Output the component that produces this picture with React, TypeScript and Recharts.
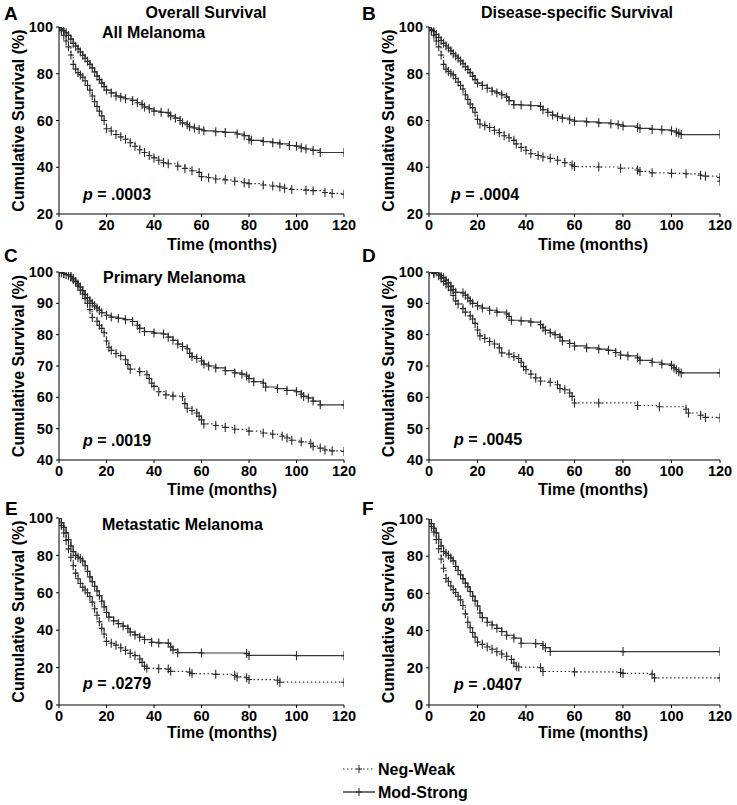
import React from 'react';
import { LineChart, Line, XAxis, YAxis } from 'recharts';

// Kaplan-Meier estimates: [month, survival %]
const overallStrong: [number, number][] = [
  [0, 100], [1, 99.2], [2, 98.3], [3, 97.5], [4, 96.4], [5, 94.8], [6, 93], [7, 91.8], [8, 90.6], [9, 89.3],
  [10, 87.9], [11, 86.6], [12, 85.3], [13, 84], [14, 82.5], [15, 80.8], [16, 79], [17, 77.5], [18, 76], [19, 74.5],
  [20, 73], [22, 71.8], [24, 70.5], [26, 70], [28, 69.3], [31, 68.6], [33, 67.6], [35, 66.8], [36, 65.8], [38, 65],
  [40, 64], [43, 63.5], [46, 63.2], [47, 62], [49, 61], [51, 60], [52, 59], [54, 58.2], [55, 57.3], [57, 56.8],
  [59, 56.2], [61, 55.6], [66, 55.2], [70, 54.9], [75, 54.2], [78, 53.5], [80, 52], [81, 51.5], [86, 51], [90, 50.5],
  [93, 50], [97, 49.3], [100, 49], [102, 48.3], [104, 47.8], [107, 47.2], [110, 46.3], [120, 46.3],
];
const overallWeak: [number, number][] = [
  [0, 100], [1, 98.5], [2, 96.5], [3, 94], [4, 91.5], [5, 88], [6, 84], [7, 82], [8, 80.5], [9, 79.5],
  [10, 78.5], [11, 77], [12, 75], [13, 73], [14, 70.5], [15, 68], [16, 66], [17, 64], [18, 62], [19, 60],
  [20, 56.5], [22, 55.5], [24, 54], [26, 53], [28, 52], [30, 50.5], [32, 49], [34, 47.5], [36, 46.3], [38, 45],
  [40, 44], [42, 43], [44, 42], [46, 41.5], [50, 40.5], [53, 39.5], [56, 38.5], [59, 37.8], [60, 36], [63, 35.5],
  [66, 35], [70, 34.6], [74, 34], [78, 33.4], [80, 33], [86, 32.4], [90, 32], [93, 31.6], [95, 31], [98, 30.5],
  [104, 30.2], [107, 30], [112, 29.2], [115, 28.8], [120, 28.5],
];
const diseaseStrong: [number, number][] = [
  [0, 100], [1, 99], [2, 98], [3, 96.8], [4, 95.5], [5, 94.2], [6, 93], [7, 92], [8, 91], [9, 89.8],
  [10, 88.6], [11, 87.6], [12, 86.6], [13, 85.5], [14, 84.3], [15, 83], [16, 81.8], [17, 80.5], [18, 79], [19, 77.5],
  [20, 76], [22, 75], [24, 73.8], [26, 72.6], [28, 71.8], [30, 71], [32, 70], [33, 68.5], [35, 66.8], [38, 66.6],
  [42, 66.4], [46, 66], [47, 64.6], [49, 63.5], [51, 62.3], [53, 61.6], [55, 61], [58, 60.3], [60, 59.7], [65, 59.4],
  [70, 59], [75, 58.6], [78, 58.2], [80, 57.6], [86, 57], [87, 56.6], [92, 56.2], [96, 56], [100, 55.6], [102, 55],
  [103, 54.5], [104, 54], [120, 54],
];
const diseaseWeak: [number, number][] = [
  [0, 100], [1, 98.5], [2, 96.5], [3, 94], [4, 91.5], [5, 88], [6, 84], [7, 82], [8, 81], [9, 80.2],
  [10, 79.5], [11, 78], [12, 76.5], [13, 75], [14, 73.5], [15, 71], [16, 69], [17, 67], [18, 65.5], [19, 63.5],
  [20, 60.5], [21, 58.5], [23, 57.8], [25, 57], [27, 55.8], [29, 54.8], [31, 53.5], [33, 52.6], [35, 51.5], [36, 50],
  [38, 48.5], [40, 47.3], [42, 45.8], [45, 45], [47, 44.4], [50, 43.8], [53, 43], [56, 42], [59, 41], [60, 40.3],
  [70, 40.1], [79, 39.6], [86, 38.8], [87, 38.2], [92, 37.6], [100, 37.4], [106, 37.2], [112, 36.6], [114, 36.2],
  [120, 35.6], [120, 34],
];
const primaryStrong: [number, number][] = [
  [0, 100], [1, 99.8], [2, 99.5], [3, 99.2], [5, 98.5], [6, 98], [7, 97], [8, 96.2], [9, 95.2], [10, 94],
  [11, 92.8], [12, 91.8], [13, 90.8], [14, 90], [15, 89.2], [16, 88.5], [17, 87.8], [18, 87], [20, 86.2], [22, 85.6],
  [25, 85.2], [28, 84.8], [31, 84.2], [33, 83], [34, 82], [36, 81], [40, 80.5], [44, 80.2], [46, 79.2], [48, 78.2],
  [50, 77], [52, 76.2], [54, 75.5], [55, 74], [56, 73], [58, 72.4], [60, 71.6], [61, 70.6], [63, 70], [66, 69.4],
  [70, 68.5], [74, 67.8], [77, 67.4], [79, 66.8], [80, 66], [82, 65], [86, 64.5], [87, 63.3], [92, 62.8], [96, 62.2],
  [100, 61.8], [102, 61], [103, 60.3], [105, 59.8], [107, 58.8], [110, 57.6], [120, 57.6],
];
const primaryWeak: [number, number][] = [
  [0, 100], [2, 99.5], [4, 99], [5, 98.5], [6, 97.5], [7, 96.8], [8, 95.5], [9, 94.2], [10, 93], [11, 91.5],
  [12, 90], [13, 88], [14, 85.5], [16, 84.3], [17, 83], [18, 82], [19, 80.6], [20, 78], [21, 76], [22, 75],
  [24, 74], [26, 73.3], [28, 72], [29, 70.5], [30, 69], [34, 68.2], [37, 67.2], [38, 66], [39, 64.5], [40, 63.5],
  [42, 61.8], [45, 60.8], [48, 60.4], [52, 60.2], [53, 58], [54, 56.5], [56, 55.8], [58, 55], [59, 54], [60, 52.8],
  [61, 51.5], [66, 51], [70, 50.4], [74, 49.8], [80, 49.2], [86, 48.6], [90, 48.2], [94, 47.6], [96, 47], [98, 46.3],
  [102, 45.8], [106, 45.2], [107, 44.4], [110, 43.8], [112, 43.2], [115, 42.9], [120, 42.7],
];
const primaryDsStrong: [number, number][] = [
  [0, 100], [2, 99.8], [4, 99.3], [5, 98.8], [6, 98.2], [7, 97.4], [8, 96.5], [9, 95.5], [10, 94.4], [11, 93.5],
  [14, 93.3], [15, 92.6], [16, 91.7], [17, 90.8], [18, 90], [20, 89.2], [22, 88.5], [25, 87.8], [28, 87.2], [32, 86.6],
  [33, 85.8], [34, 84.6], [38, 84.4], [42, 84], [46, 83.2], [47, 82.2], [48, 81.4], [50, 80.6], [52, 80], [54, 79.2],
  [55, 78], [58, 77.2], [60, 76.4], [65, 75.8], [70, 75.4], [74, 75], [77, 74.3], [79, 73.5], [82, 73.2], [86, 72.6],
  [87, 71.8], [92, 71.2], [96, 70.6], [100, 70.2], [101, 69.4], [102, 68.8], [103, 68.2], [104, 67.8], [120, 67.8],
];
const primaryDsWeak: [number, number][] = [
  [0, 100], [2, 99.5], [4, 98.8], [5, 98], [6, 97], [7, 96.2], [8, 95.3], [9, 94.2], [10, 92.5], [11, 90.8],
  [12, 89.8], [14, 88.3], [15, 87.2], [17, 86], [18, 85], [19, 83.6], [20, 81.5], [21, 79.6], [23, 78.8], [25, 77.8],
  [27, 77], [29, 75.8], [30, 74.2], [33, 73.8], [35, 73], [37, 72.4], [38, 71.2], [39, 69.8], [40, 68.8], [42, 67.4],
  [44, 66.2], [46, 65.2], [50, 64.8], [53, 64], [54, 62.8], [56, 62.4], [58, 61.4], [59, 60.3], [60, 58.2], [70, 58.2],
  [86, 57.4], [95, 57], [106, 56.2], [107, 55], [112, 54.3], [114, 53.6], [120, 53.5],
];
const metaStrong: [number, number][] = [
  [0, 100], [1, 97.5], [2, 95], [3, 92], [4, 88.5], [5, 85], [6, 82], [7, 80], [8, 79], [9, 78.2],
  [10, 77], [11, 74.5], [12, 71.5], [13, 68.5], [14, 66], [15, 63.5], [16, 61], [17, 58.5], [18, 55.5], [19, 52.5],
  [20, 49.5], [21, 47], [23, 45], [25, 43.5], [27, 42.2], [29, 40.8], [30, 39], [32, 37.5], [34, 36.2], [36, 35],
  [39, 33.5], [42, 33.2], [46, 33], [47, 31], [48, 29.5], [50, 28], [60, 27.8], [79, 27.5], [80, 26.5], [100, 26.4],
  [120, 26.4],
];
const metaWeak: [number, number][] = [
  [0, 100], [1, 96], [2, 92], [3, 88], [4, 83.5], [5, 79], [6, 74.5], [7, 70.5], [8, 67.5], [9, 65],
  [10, 63], [11, 61.5], [12, 60], [13, 58], [14, 55], [15, 51.5], [16, 48], [17, 44.5], [18, 41], [19, 38],
  [20, 34], [22, 33], [24, 32], [26, 30.6], [28, 29.2], [30, 27.6], [32, 26.4], [34, 24.6], [35, 22.8], [36, 20.8],
  [37, 19.6], [42, 19.4], [46, 19.2], [47, 18], [55, 17.6], [56, 16.8], [66, 16.4], [74, 15.8], [75, 15], [79, 14.6],
  [80, 13.6], [92, 13.2], [93, 12.2], [120, 12.2],
];
const metaDsStrong: [number, number][] = [
  [0, 100], [1, 97.5], [2, 95], [3, 92.5], [4, 89], [5, 85.5], [6, 82.5], [7, 81.5], [8, 80.5], [9, 79],
  [10, 77.5], [11, 74.5], [12, 72.3], [13, 70], [14, 67.8], [15, 65.5], [16, 63.5], [17, 61], [18, 58.5], [19, 56],
  [20, 53.2], [21, 49.5], [22, 47], [24, 44.5], [26, 43], [28, 41.2], [30, 39.5], [32, 37.5], [35, 36], [38, 33.2],
  [44, 33], [47, 32], [48, 30.8], [50, 28.8], [80, 28.7], [120, 28.7],
];
const metaDsWeak: [number, number][] = [
  [0, 100], [1, 96], [2, 93], [3, 89], [4, 84], [5, 78.5], [6, 73.5], [7, 68], [8, 66.5], [9, 64],
  [10, 62], [11, 60.5], [12, 58.5], [13, 56.5], [14, 53.5], [15, 49], [16, 44.5], [17, 41.5], [18, 39], [19, 36.5],
  [20, 33.8], [22, 32.6], [24, 31.2], [26, 30], [28, 28.6], [30, 27.4], [32, 26.2], [34, 24.5], [35, 22.6], [36, 20.8],
  [37, 20.4], [46, 20], [47, 18], [60, 17.8], [79, 17.5], [80, 17], [92, 16.5], [93, 14.6], [120, 14.6],
];

const monthTicks = [0, 20, 40, 60, 80, 100, 120];
const ticks20 = [20, 40, 60, 80, 100];
const ticks40 = [40, 50, 60, 70, 80, 90, 100];
const ticks0 = [0, 20, 40, 60, 80, 100];

const FONT = '"Liberation Sans", Arial, Helvetica, sans-serif';
const INK = '#000';

const toRows = (pts: [number, number][]) => pts.map(([t, s]) => ({ t, s }));

const Cross = (props: any) => {
  const { cx, cy } = props;
  if (cx == null || cy == null) return null;
  return (
    <path
      d={`M${cx - 3},${cy}H${cx + 3}M${cx},${cy - 4.5}V${cy + 4.5}`}
      stroke="#2a2a2a"
      strokeWidth={1.1}
      fill="none"
    />
  );
};

const renderCross = (p: any) => <Cross key={`c-${p.index}`} {...p} />;

interface PanelProps {
  left: number;
  top: number;
  width: number;
  height: number;
  axisW: number;
  right: number;
  marginTop: number;
  axisH: number;
  yDomain: [number, number];
  yTicks: number[];
  strong: [number, number][];
  weak: [number, number][];
  letter: string;
  letterPos: [number, number];
  titles: { text: string; x: number; y: number; anchor: 'start' | 'middle' }[];
  pValue: string;
  pPos: [number, number];
  yLabelX: number;
  xLabel: [number, number];
}

const Panel: React.FC<PanelProps> = (p) => {
  const plotMid = p.marginTop + (p.height - p.marginTop - p.axisH) / 2;
  const textStyle = { fontFamily: FONT, fontWeight: 700, fill: INK } as const;
  return (
    <div style={{ position: 'absolute', left: p.left, top: p.top }}>
      <LineChart
        width={p.width}
        height={p.height}
        margin={{ top: p.marginTop, right: p.right, left: 0, bottom: 0 }}
      >
        <XAxis
          dataKey="t"
          type="number"
          domain={[0, 120]}
          ticks={monthTicks}
          allowDataOverflow
          height={p.axisH}
          tickSize={3}
          tickMargin={3}
          stroke={INK}
          tick={{ fill: INK, fontSize: 14.5, fontWeight: 700, fontFamily: FONT }}
        />
        <YAxis
          type="number"
          domain={p.yDomain}
          ticks={p.yTicks}
          allowDataOverflow
          width={p.axisW}
          tickSize={3}
          tickMargin={3}
          stroke={INK}
          tick={{ fill: INK, fontSize: 14.5, fontWeight: 700, fontFamily: FONT }}
        />
        <Line
          data={toRows(p.weak)}
          dataKey="s"
          type="stepAfter"
          stroke="#333"
          strokeWidth={1.2}
          strokeDasharray="1.5 2.5"
          dot={renderCross}
          activeDot={false}
          isAnimationActive={false}
        />
        <Line
          data={toRows(p.strong)}
          dataKey="s"
          type="stepAfter"
          stroke="#3a3a3a"
          strokeWidth={1.2}
          dot={renderCross}
          activeDot={false}
          isAnimationActive={false}
        />
        <text x={p.letterPos[0]} y={p.letterPos[1]} fontSize={19} {...textStyle}>
          {p.letter}
        </text>
        {p.titles.map((t) => (
          <text key={t.text} x={t.x} y={t.y} fontSize={16} textAnchor={t.anchor} {...textStyle}>
            {t.text}
          </text>
        ))}
        <text x={p.pPos[0]} y={p.pPos[1]} fontSize={16} {...textStyle}>
          <tspan fontStyle="italic">p</tspan> = {p.pValue}
        </text>
        <text
          x={p.yLabelX}
          y={plotMid}
          fontSize={16}
          textAnchor="middle"
          dominantBaseline="central"
          transform={`rotate(-90, ${p.yLabelX}, ${plotMid})`}
          {...textStyle}
        >
          Cumulative Survival (%)
        </text>
        <text x={p.xLabel[0]} y={p.xLabel[1]} fontSize={16} textAnchor="middle" {...textStyle}>
          Time (months)
        </text>
      </LineChart>
    </div>
  );
};

const LEFT = { left: 0, width: 368, axisW: 59, right: 24, yLabelX: 18, xLabelX: 222 };
const RIGHT = { left: 355, width: 382, axisW: 74, right: 17, yLabelX: 33, xLabelX: 238 };

const Legend: React.FC = () => (
  <svg width={737} height={55} style={{ position: 'absolute', left: 0, top: 750 }}>
    <line x1={343} x2={375} y1={19} y2={19} stroke="#333" strokeWidth={1.2} strokeDasharray="1.5 2.5" />
    <path d="M356,19H362M359,15V23" stroke="#2a2a2a" />
    <text x={378} y={25} fontSize={16} fontFamily={FONT} fontWeight={700} fill={INK}>Neg-Weak</text>
    <line x1={343} x2={375} y1={42} y2={42} stroke="#333" strokeWidth={1.4} />
    <path d="M356,42H362M359,38V46" stroke="#2a2a2a" />
    <text x={378} y={48} fontSize={16} fontFamily={FONT} fontWeight={700} fill={INK}>Mod-Strong</text>
  </svg>
);

export default function App() {
  return (
    <div style={{ position: 'absolute', left: 0, top: 0, width: 737, height: 805, background: '#fff', overflow: 'hidden' }}>
      <Panel
        left={LEFT.left} top={0} width={LEFT.width} height={255} axisW={LEFT.axisW} right={LEFT.right}
        marginTop={27} axisH={41} yDomain={[20, 100]} yTicks={ticks20}
        strong={overallStrong} weak={overallWeak}
        letter="A" letterPos={[4, 20]}
        titles={[{ text: 'Overall Survival', x: 206, y: 18, anchor: 'middle' }, { text: 'All Melanoma', x: 102, y: 38, anchor: 'start' }]}
        pValue=".0003" pPos={[83, 200]} yLabelX={LEFT.yLabelX} xLabel={[LEFT.xLabelX, 250]}
      />
      <Panel
        left={RIGHT.left} top={0} width={RIGHT.width} height={255} axisW={RIGHT.axisW} right={RIGHT.right}
        marginTop={27} axisH={41} yDomain={[20, 100]} yTicks={ticks20}
        strong={diseaseStrong} weak={diseaseWeak}
        letter="B" letterPos={[7, 20]}
        titles={[{ text: 'Disease-specific Survival', x: 222, y: 18, anchor: 'middle' }]}
        pValue=".0004" pPos={[96, 200]} yLabelX={RIGHT.yLabelX} xLabel={[RIGHT.xLabelX, 250]}
      />
      <Panel
        left={LEFT.left} top={245} width={LEFT.width} height={255} axisW={LEFT.axisW} right={LEFT.right}
        marginTop={27} axisH={40} yDomain={[40, 100]} yTicks={ticks40}
        strong={primaryStrong} weak={primaryWeak}
        letter="C" letterPos={[4, 17]}
        titles={[{ text: 'Primary Melanoma', x: 103, y: 38, anchor: 'start' }]}
        pValue=".0019" pPos={[83, 201]} yLabelX={LEFT.yLabelX} xLabel={[LEFT.xLabelX, 250]}
      />
      <Panel
        left={RIGHT.left} top={245} width={RIGHT.width} height={255} axisW={RIGHT.axisW} right={RIGHT.right}
        marginTop={27} axisH={40} yDomain={[40, 100]} yTicks={ticks40}
        strong={primaryDsStrong} weak={primaryDsWeak}
        letter="D" letterPos={[7, 17]}
        titles={[]}
        pValue=".0045" pPos={[99, 200]} yLabelX={RIGHT.yLabelX} xLabel={[RIGHT.xLabelX, 250]}
      />
      <Panel
        left={LEFT.left} top={490} width={LEFT.width} height={260} axisW={LEFT.axisW} right={LEFT.right}
        marginTop={28} axisH={45} yDomain={[0, 100]} yTicks={ticks0}
        strong={metaStrong} weak={metaWeak}
        letter="E" letterPos={[5, 25]}
        titles={[{ text: 'Metastatic Melanoma', x: 102, y: 40, anchor: 'start' }]}
        pValue=".0279" pPos={[83, 199]} yLabelX={LEFT.yLabelX} xLabel={[LEFT.xLabelX, 248]}
      />
      <Panel
        left={RIGHT.left} top={490} width={RIGHT.width} height={260} axisW={RIGHT.axisW} right={RIGHT.right}
        marginTop={29} axisH={45} yDomain={[0, 100]} yTicks={ticks0}
        strong={metaDsStrong} weak={metaDsWeak}
        letter="F" letterPos={[7, 25]}
        titles={[]}
        pValue=".0407" pPos={[99, 200]} yLabelX={RIGHT.yLabelX} xLabel={[RIGHT.xLabelX, 248]}
      />
      <Legend />
    </div>
  );
}
